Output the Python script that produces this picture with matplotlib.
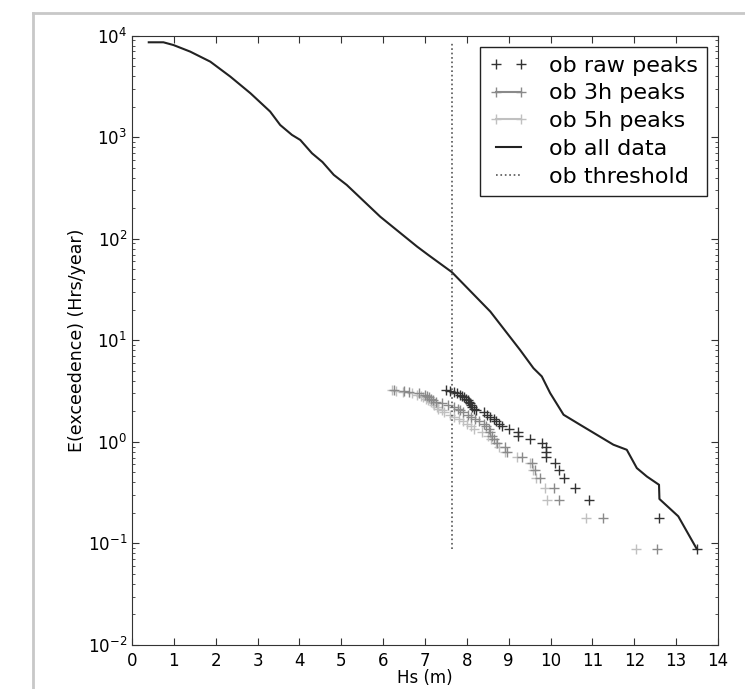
import matplotlib
matplotlib.use('Agg')
import matplotlib.pyplot as plt
from matplotlib.lines import Line2D

# all data exceedence curve
hs_all = [0.40, 0.75, 0.99, 1.39, 1.87, 2.35, 2.83, 3.30, 3.54, 3.82, 4.02, 4.30, 4.55, 4.82,
          5.13, 5.93, 6.81, 7.08, 7.64, 8.56, 9.27, 9.59, 9.79, 9.99, 10.31, 10.71, 11.50,
          11.82, 12.06, 12.30, 12.59, 12.60, 13.05, 13.49]
e_all = [8610, 8610, 8090, 6970, 5550, 3950, 2710, 1790, 1320, 1055, 940, 695, 570, 426,
         339, 165, 83.8, 69.2, 47.0, 19.2, 8.05, 5.32, 4.41, 3.02, 1.85, 1.47, 0.938,
         0.836, 0.552, 0.456, 0.378, 0.274, 0.185, 0.0885]

# peak exceedence values (same levels for each peak set)
e_peaks = [3.27, 3.19, 3.10, 3.01, 2.92, 2.83, 2.74, 2.66, 2.57, 2.48, 2.39, 2.30, 2.21,
           2.12, 2.04, 1.95, 1.86, 1.77, 1.68, 1.59, 1.50, 1.42, 1.33, 1.24, 1.15, 1.06,
           0.97, 0.885, 0.797, 0.708, 0.62, 0.531, 0.443, 0.354, 0.266, 0.177, 0.0885]
hs_raw = [7.50, 7.60, 7.70, 7.76, 7.84, 7.88, 7.92, 7.98, 8.02, 8.05, 8.08, 8.10, 8.12,
          8.16, 8.22, 8.40, 8.48, 8.55, 8.64, 8.70, 8.76, 8.84, 9.00, 9.21, 9.21, 9.50,
          9.79, 9.90, 9.90, 9.90, 10.11, 10.19, 10.31, 10.59, 10.91, 12.59, 13.49]
hs_3h = [6.25, 6.50, 6.62, 6.85, 7.00, 7.05, 7.10, 7.14, 7.20, 7.26, 7.40, 7.55, 7.70,
         7.78, 7.84, 7.90, 8.02, 8.10, 8.20, 8.30, 8.40, 8.45, 8.52, 8.56, 8.60, 8.64,
         8.72, 8.92, 8.96, 9.31, 9.55, 9.63, 9.75, 10.07, 10.19, 11.24, 12.55]
hs_5h = [6.20, 6.30, 6.48, 6.70, 6.82, 6.90, 6.96, 7.02, 7.08, 7.14, 7.18, 7.22, 7.28,
         7.32, 7.40, 7.46, 7.60, 7.70, 7.82, 7.90, 8.00, 8.10, 8.18, 8.36, 8.50, 8.58,
         8.70, 8.76, 8.90, 9.19, 9.50, 9.59, 9.66, 9.87, 9.91, 10.84, 12.04]

threshold = 7.65
thr_span = [0.0885, 8610]

c_raw = '#333333'
c_3h = '#8a8a8a'
c_5h = '#c0c0c0'

fig = plt.figure(figsize=(7.45, 6.89), dpi=100)
ax = fig.add_axes([0.1772, 0.0639, 0.7866, 0.8843])

ax.plot(hs_5h, e_peaks, ls='none', marker='+', ms=7, mew=1, color=c_5h)
ax.plot(hs_3h, e_peaks, ls='none', marker='+', ms=7, mew=1, color=c_3h)
ax.plot(hs_raw, e_peaks, ls='none', marker='+', ms=7, mew=1, color=c_raw)
ax.plot(hs_all, e_all, color='#222222', lw=1.5)
ax.plot([threshold, threshold], thr_span, color='#555555', ls=':', lw=1.2)

ax.set_yscale('log')
ax.set_xlim(0, 14)
ax.set_ylim(1e-2, 1e4)
ax.set_xticks(range(0, 15))
ax.tick_params(which='both', direction='in', top=True, right=True, labelsize=12,
               color='#333333')
ax.tick_params(which='major', length=5)
ax.tick_params(which='minor', length=2.5)
ax.tick_params(axis='x', pad=5)
for s in ax.spines.values():
    s.set_color('#333333')

ax.set_xlabel('Hs (m)', fontsize=12, labelpad=-1)
ax.set_ylabel('E(exceedence) (Hrs/year)', fontsize=12.5, labelpad=1)

handles = [
    Line2D([], [], ls='none', marker='+', ms=7, color=c_raw),
    Line2D([], [], ls='-', marker='+', ms=7, color=c_3h),
    Line2D([], [], ls='-', marker='+', ms=7, color=c_5h),
    Line2D([], [], ls='-', lw=1.5, color='#222222'),
    Line2D([], [], ls=':', lw=1.2, color='#555555'),
]
labels = ['ob raw peaks', 'ob 3h peaks', 'ob 5h peaks', 'ob all data', 'ob threshold']
leg = ax.legend(handles, labels, loc='upper right', fontsize=16, numpoints=2,
                fancybox=False, framealpha=1, edgecolor='#222222',
                borderaxespad=0.5, borderpad=0.4, handlelength=1.75,
                handletextpad=0.95, labelspacing=0.35)
leg.get_frame().set_linewidth(1.0)

# light frame around the figure area
fig.add_artist(Line2D([33 / 745, 33 / 745], [0, 1 - 13 / 689], color='#c8c8c8', lw=2))
fig.add_artist(Line2D([33 / 745, 1], [1 - 13 / 689, 1 - 13 / 689], color='#c8c8c8', lw=2))

fig.savefig('out.png', dpi=100)
